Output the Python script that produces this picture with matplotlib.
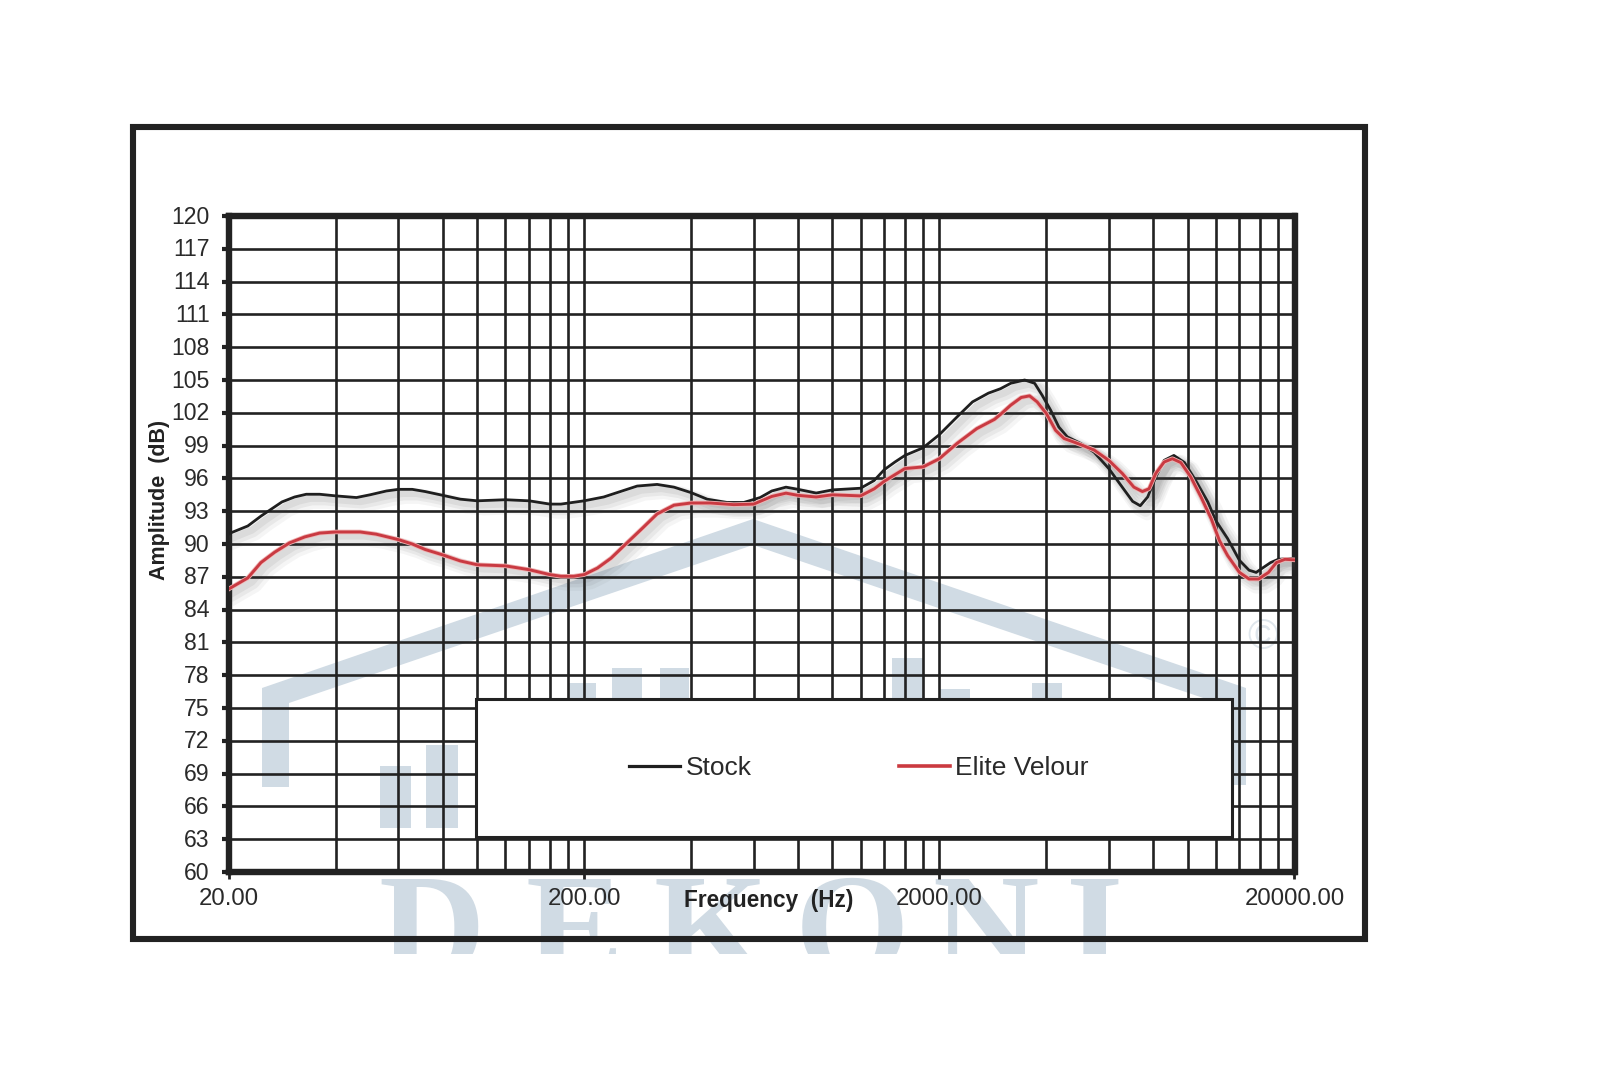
import matplotlib
matplotlib.use("Agg")
import matplotlib.pyplot as plt
import matplotlib.patheffects as pe
from matplotlib.patches import Polygon, Rectangle
from matplotlib.transforms import Bbox, ScaledTranslation

plt.rcParams['font.family'] = ['Liberation Sans', 'DejaVu Sans']

W, H = 1600, 1067
stock_freq = [20, 22.6, 24.6, 26.2, 28.2, 30.6, 33, 36, 40, 45.7, 49.9, 55.5, 60, 65.6, 71.3, 80, 89.6, 100, 120, 140,
              160, 172, 200, 227, 253, 282, 321, 358, 400, 444, 505, 563, 626, 675, 740, 800, 900, 1000, 1200, 1310,
              1400, 1500, 1600, 1800, 2000, 2240, 2480, 2750, 2972, 3178, 3477, 3710, 3896, 4114, 4340, 4584, 5001,
              5452, 6000, 6480, 7003, 7357, 7720, 8134, 8590, 9150, 9800, 10540, 11400, 12000, 12960, 14000, 14900,
              15600, 16000, 17130, 18000, 20000]
stock_db = [90.95, 91.65, 92.55, 93.15, 93.85, 94.3, 94.55, 94.55, 94.4, 94.25, 94.5, 94.85, 95, 95, 94.8, 94.45, 94.1,
            93.95, 94.05, 93.95, 93.65, 93.65, 93.95, 94.3, 94.8, 95.3, 95.45, 95.2, 94.7, 94.1, 93.8, 93.8, 94.25,
            94.85, 95.2, 95, 94.66, 94.95, 95.1, 95.8, 96.8, 97.5, 98.1, 98.8, 100, 101.6, 103, 103.8, 104.2, 104.7,
            105, 104.7, 103.6, 102.25, 100.7, 99.8, 99.2, 98.4, 96.9, 95.4, 93.9, 93.5, 94.3, 96.1, 97.65, 98.1,
            97.45, 95.8, 93.85, 92.15, 90.5, 88.5, 87.6, 87.4, 87.65, 88.3, 88.6, 88.7]
velour_freq = [20, 22.6, 24.6, 26.9, 29.6, 32.7, 36, 40, 46.8, 51.9, 60, 65.6, 71.3, 80, 89.6, 100, 120, 140, 160, 172,
               187, 200, 218, 238, 262, 293, 321, 358, 400, 453, 527, 600, 675, 740, 800, 900, 1000, 1200, 1312, 1401,
               1600, 1800, 2000, 2244, 2549, 2860, 2972, 3178, 3400, 3590, 3770, 4000, 4250, 4490, 4900, 5452, 6000,
               6550, 7060, 7460, 7790, 8134, 8590, 9060, 9570, 10200, 10910, 11660, 12300, 12960, 14000, 14900,
               15850, 16900, 17780, 18800, 20000]
velour_db = [85.9, 86.9, 88.3, 89.25, 90.1, 90.65, 91, 91.1, 91.1, 90.9, 90.4, 90, 89.5, 89, 88.45, 88.1, 88, 87.65,
             87.2, 87.05, 87.05, 87.2, 87.8, 88.7, 90, 91.5, 92.75, 93.55, 93.75, 93.75, 93.6, 93.65, 94.35, 94.65,
             94.45, 94.3, 94.5, 94.4, 95.05, 95.75, 96.9, 97.05, 97.8, 99.2, 100.55, 101.4, 101.85, 102.7, 103.4,
             103.55, 103, 101.95, 100.4, 99.65, 99.2, 98.6, 97.65, 96.45, 95.2, 94.8, 95.05, 96.45, 97.5, 97.8,
             97.45, 96.15, 94.3, 92.3, 90.3, 88.95, 87.4, 86.8, 86.8, 87.4, 88.3, 88.6, 88.55]
y_ticks = list(range(60, 121, 3))
x_major = [20, 200, 2000, 20000]
x_major_labels = ['20.00', '200.00', '2000.00', '20000.00']
x_grid = [20 * m * d for d in (1, 10, 100) for m in range(1, 10)] + [20000]
series_names = ['Stock', 'Elite Velour']

def fx(px): return px / W
def fy(py): return 1 - py / H

fig = plt.figure(figsize=(16, 10.67), dpi=100, facecolor='white')
ax = fig.add_axes([fx(229), fy(872), fx(1294.5 - 229), (872 - 216) / H])
ax.patch.set_alpha(0)

WM = '#d0dbe4'
def poly(pts):
    fig.add_artist(Polygon([(fx(a), fy(b)) for a, b in pts], closed=True, transform=fig.transFigure,
                           fc=WM, ec='none', zorder=-2))
poly([(262, 688), (753, 519), (1246, 688), (1246, 785), (1218, 785), (1218, 703), (753, 545), (289, 703),
      (289, 787), (262, 787)])
for x0, x1, y0, y1 in [(380, 411, 766, 828), (426, 458, 745, 828), (568, 596, 683, 710), (612, 642, 668, 710),
                       (660, 689, 668, 710), (892, 923, 658, 710), (939, 970, 689, 710), (1032, 1062, 683, 710)]:
    poly([(x0, y0), (x1, y0), (x1, y1), (x0, y1)])
clip = Bbox([[0, H - 954], [W, H]])
for ch, px in zip('DEKONI', [378, 525, 654, 795, 932, 1066]):
    t = fig.text(fx(px), fy(975), ch, family='Liberation Serif', weight='bold', fontsize=106, color=WM,
                 va='baseline', ha='left', zorder=-2)
    t.set_clip_on(True)
    t.set_clip_box(clip)
fig.text(fx(1263), fy(638), '\u00a9', fontsize=30, color='#dfe6ec', ha='center', va='center', zorder=-2)

fig.add_artist(Rectangle((fx(133), fy(939)), fx(1365 - 133), (939 - 127) / H, transform=fig.transFigure,
                         fc='none', ec='#222222', lw=4.4, zorder=-1))

DARK = '#222222'
ax.set_xscale('log')
ax.set_xlim(20, 20000)
ax.set_ylim(60, 120)
ax.set_yticks(y_ticks)
ax.set_xticks(x_major)
ax.set_xticklabels(x_major_labels)
ax.set_xticks(x_grid, minor=True)
ax.set_xticklabels([], minor=True)
ax.tick_params(axis='x', which='minor', length=0)
ax.tick_params(axis='x', which='major', length=5, width=2, color=DARK, pad=6.5, labelsize=17.3, labelcolor='#2a2a2a')
ax.tick_params(axis='y', length=5, width=3, color=DARK, pad=9, labelsize=16.6, labelcolor='#2a2a2a')
up = ScaledTranslation(0, 1.5 / 100, fig.dpi_scale_trans)
for lab in ax.get_yticklabels():
    lab.set_transform(lab.get_transform() + up)
ax.grid(True, which='both', color=DARK, lw=1.9, zorder=1)
ax.set_axisbelow(True)
for s in ax.spines.values():
    s.set_linewidth(4.6)
    s.set_color(DARK)

def effects(halo=None):
    fx_list = [pe.SimpleLineShadow(offset=(5, -5), shadow_color='#444444', alpha=0.05, linewidth=11),
               pe.SimpleLineShadow(offset=(4, -4), shadow_color='#444444', alpha=0.07, linewidth=8),
               pe.SimpleLineShadow(offset=(3, -3), shadow_color='#444444', alpha=0.08, linewidth=5)]
    if halo:
        fx_list.append(pe.Stroke(linewidth=3.3, foreground=halo))
    fx_list.append(pe.Normal())
    return fx_list

l1, = ax.plot(stock_freq, stock_db, color='#1f1f1f', lw=2.0, zorder=3, path_effects=effects(),
              solid_joinstyle='round', label=series_names[0])
l2, = ax.plot(velour_freq, velour_db, color='#c93a42', lw=2.1, zorder=4, path_effects=effects('#eeb4b4'),
              solid_joinstyle='round', label=series_names[1])

box = Rectangle((fx(476.5), fy(837)), fx(1232 - 476.5), (837 - 699) / H, transform=fig.transFigure,
                fc='white', ec=DARK, lw=2.2, zorder=5)
ax.add_patch(box)
h1, = ax.plot([], [], color='#1f1f1f', lw=2.3)
h2, = ax.plot([], [], color='#cb3a40', lw=2.6)
leg = ax.legend([h1, h2], series_names, ncol=2, frameon=False, fontsize=19, handlelength=1.93,
                handletextpad=0.2, columnspacing=5.6, loc='center', labelcolor='#2a2a2a',
                bbox_to_anchor=(fx(859), fy(768)), bbox_transform=fig.transFigure)
leg.set_zorder(6)

fig.text(fx(769), fy(900), 'Frequency  (Hz)', fontsize=16.3, weight='bold', color='#222222', ha='center', va='center')
fig.text(fx(160), fy(500), 'Amplitude  (dB)', fontsize=15.5, weight='bold', color='#222222', ha='center', va='center',
         rotation=90)

fig.savefig('out.png', dpi=100)
